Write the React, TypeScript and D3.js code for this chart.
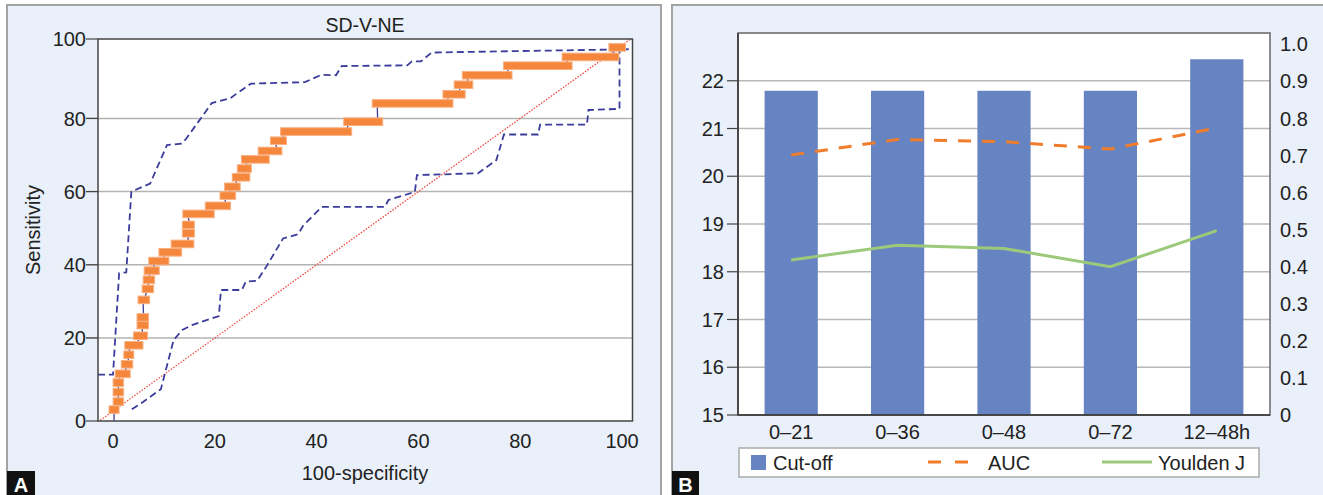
import React from "react";
import * as d3 from "d3";

// ---- panel A: ROC curve ----
// each step: [fpr start, fpr end, sensitivity]
const rocSteps: [number, number, number][] = [
  [0.2, 0.2, 0.4], [1.0, 1.1, 2.6], [1.0, 1.1, 5.2], [1.0, 1.1, 7.8],
  [1.4, 2.4, 10.2], [2.6, 2.9, 12.8], [3.1, 3.1, 15.4], [3.3, 4.9, 18.0],
  [5.0, 5.8, 20.6], [5.7, 6.0, 23.5], [5.7, 6.0, 25.6], [5.9, 6.2, 30.4],
  [6.7, 7.0, 33.4], [6.9, 7.2, 35.9], [7.1, 8.1, 38.4], [8.0, 10.0, 41.0],
  [10.0, 12.5, 43.4], [12.4, 14.9, 45.7], [14.6, 15.0, 48.6], [14.6, 15.0, 50.9],
  [14.7, 18.9, 53.9], [19.1, 22.1, 56.1], [22.0, 23.1, 58.9], [22.9, 24.0, 61.3],
  [24.4, 25.9, 63.9], [25.4, 26.2, 66.3], [26.2, 29.7, 68.8], [29.5, 32.2, 71.1],
  [31.9, 33.1, 73.9], [33.9, 45.9, 76.4], [46.3, 52.0, 79.1], [51.9, 65.8, 84.1],
  [65.8, 68.2, 86.6], [68.0, 69.7, 89.2], [69.6, 77.4, 91.8], [77.7, 89.2, 94.4],
  [89.2, 98.4, 96.8], [98.4, 99.7, 99.4],
];

const upperCI: [number, number][] = [
  [-2.95, 10.0], [0, 10.0], [1.2, 37.7], [2.6, 37.9], [3.6, 60.0], [4.3, 60.4],
  [7.3, 62.2], [10.6, 72.7], [13.4, 73.1], [14.3, 74.3], [19.4, 84.2], [23.0, 85.5],
  [27.1, 89.5], [37.7, 89.9], [40.9, 91.9], [43.8, 91.8], [44.9, 94.3], [57.8, 94.5],
  [58.7, 95.6], [60.5, 95.6], [62.6, 98.0], [101.5, 98.9],
];

const lowerCI: [number, number][] = [
  [3.7, 0.5], [5.9, 2.5], [9.4, 6.0], [11.9, 19.4], [13.6, 22.2], [15.5, 23.5],
  [17.1, 24.3], [20.8, 26.0], [21.2, 33.1], [25.3, 33.1], [26.1, 35.4], [28.3, 35.6],
  [30.3, 39.9], [33.4, 47.2], [34.8, 47.7], [36.4, 48.4], [37.3, 50.6], [41.0, 55.8],
  [53.4, 55.8], [54.1, 57.7], [59.3, 59.9], [59.7, 64.5], [71.7, 65.0], [75.3, 68.6],
  [76.8, 75.6], [83.5, 75.6], [83.9, 78.3], [93.1, 78.3], [93.4, 82.3], [99.5, 82.6],
  [99.5, 99.1],
];

const rocXTicks = [0, 20, 40, 60, 80, 100];
const rocYTicks = [0, 20, 40, 60, 80, 100];
const rocGrid = [20, 40, 60, 80];

// ---- panel B: cut-off bars with AUC and Youden lines ----
const periods = ["0–21", "0–36", "0–48", "0–72", "12–48h"];
const cutOff = [21.79, 21.79, 21.79, 21.79, 22.45];
const auc = [0.701, 0.743, 0.737, 0.717, 0.774];
const youden = [0.418, 0.458, 0.449, 0.4, 0.497];
const leftTicks = [15, 16, 17, 18, 19, 20, 21, 22];
const rightTicks = [0, 0.1, 0.2, 0.3, 0.4, 0.5, 0.6, 0.7, 0.8, 0.9, 1.0];

const FONT = "'Liberation Sans', Arial, sans-serif";
const NAVY = "#3c3c9c";
const ORANGE = "#f5873d";
const BAR = "#6683c2";

function PanelA() {
  const x = d3.scaleLinear().domain([-2.95, 102.05]).range([98, 632.5]);
  const y = d3.scaleLinear().domain([-2.7, 101.7]).range([421, 39]);
  // the end labels sit on the frame edges in the original
  const yTick = d3
    .scaleLinear()
    .domain([0, 20, 80, 100])
    .range([y(-2.7), y(20), y(80), y(101.7)]);

  const line = d3
    .line<[number, number]>()
    .x((d) => x(d[0]))
    .y((d) => y(d[1]));

  const rocPts: [number, number][] = [[rocSteps[0][0], y.domain()[0]]];
  rocSteps.forEach((s) => {
    rocPts.push([s[0], s[2]]);
    rocPts.push([s[1], s[2]]);
  });

  const [x0, x1] = x.range();
  const [yb, yt] = y.range();

  return (
    <g>
      <rect x={7} y={5} width={654} height={500} fill="#e9f0fa" stroke="#a3a3a3" strokeWidth={2} />
      <defs>
        <clipPath id="clipA">
          <rect x={x0} y={yt} width={x1 - x0} height={yb - yt} />
        </clipPath>
      </defs>
      <rect x={x0} y={yt} width={x1 - x0} height={yb - yt} fill="#fff" />
      {rocGrid.map((v) => (
        <line key={v} x1={86} x2={x1} y1={y(v)} y2={y(v)} stroke="#b3b3b3" strokeWidth={1.5} />
      ))}
      <g clipPath="url(#clipA)">
        <path
          d={line([[-3, -3], [103, 103]]) || ""}
          stroke="#f0483c"
          strokeWidth={1.3}
          strokeDasharray="1.5,1.5"
          fill="none"
        />
        <path d={line(upperCI) || ""} stroke={NAVY} strokeWidth={1.8} strokeDasharray="7,4" fill="none" />
        <path d={line(lowerCI) || ""} stroke={NAVY} strokeWidth={1.8} strokeDasharray="7,4" fill="none" />
        <path d={line(rocPts) || ""} stroke={NAVY} strokeWidth={1.3} fill="none" />
        {rocSteps.map((s, i) => (
          <rect
            key={i}
            x={x(s[0]) - 5}
            width={x(s[1]) - x(s[0]) + 10}
            y={y(s[2]) - 3.8}
            height={7.6}
            fill={ORANGE}
            stroke="#f9b184"
            strokeWidth={1}
          />
        ))}
      </g>
      <rect x={x0} y={yt} width={x1 - x0} height={yb - yt} fill="none" stroke="#444" strokeWidth={1.5} />
      {rocYTicks.map((v) => (
        <g key={v}>
          <line x1={86} x2={x0} y1={yTick(v)} y2={yTick(v)} stroke="#444" strokeWidth={1.2} />
          <text x={86} y={yTick(v)} dy="0.36em" textAnchor="end" fontSize={20} fontFamily={FONT} fill="#222">
            {v}
          </text>
        </g>
      ))}
      {rocXTicks.map((v) => (
        <text key={v} x={x(v)} y={448} textAnchor="middle" fontSize={20} fontFamily={FONT} fill="#222">
          {v}
        </text>
      ))}
      <text x={365} y={32} textAnchor="middle" fontSize={19.5} fontFamily={FONT} fill="#222">
        SD-V-NE
      </text>
      <text x={365} y={480} textAnchor="middle" fontSize={20} fontFamily={FONT} fill="#222">
        100-specificity
      </text>
      <text
        transform="translate(40,230) rotate(-90)"
        textAnchor="middle"
        fontSize={20}
        fontFamily={FONT}
        fill="#222"
      >
        Sensitivity
      </text>
      <rect x={7} y={471} width={28} height={30} fill="#111" />
      <text x={21} y={492} textAnchor="middle" fontSize={20} fontWeight="bold" fontFamily={FONT} fill="#fff">
        A
      </text>
    </g>
  );
}

function PanelB() {
  const x = d3.scaleBand<string>().domain(periods).range([738, 1270]).paddingInner(0.5).paddingOuter(0.25);
  const yL = d3.scaleLinear().domain([15, 23]).range([415, 33]);
  const yR = d3.scaleLinear().domain([0, 1.03]).range([415, 33]);
  const cx = (i: number) => (x(periods[i]) as number) + x.bandwidth() / 2;

  const lineR = d3
    .line<number>()
    .x((_, i) => cx(i))
    .y((d) => yR(d));

  const [x0, x1] = x.range();
  const [yb, yt] = yL.range();
  const fmtR = (v: number) => (v === 0 ? "0" : v.toFixed(1));

  return (
    <g>
      <rect x={672} y={5} width={660} height={500} fill="#e9f0fa" stroke="#a3a3a3" strokeWidth={2} />
      <rect x={x0} y={yt} width={x1 - x0} height={yb - yt} fill="#fff" />
      {leftTicks.slice(1).map((v) => (
        <line key={v} x1={x0} x2={x1} y1={yL(v)} y2={yL(v)} stroke="#b8b8b8" strokeWidth={1.5} />
      ))}
      {cutOff.map((v, i) => (
        <rect key={i} x={x(periods[i])} width={x.bandwidth()} y={yL(v)} height={yb - yL(v)} fill={BAR} />
      ))}
      <path d={lineR(auc) || ""} stroke="#ef7d2c" strokeWidth={3} strokeDasharray="13,11" fill="none" />
      <path d={lineR(youden) || ""} stroke="#9cc97a" strokeWidth={3} fill="none" />
      <rect x={x0} y={yt} width={x1 - x0} height={yb - yt} fill="none" stroke="#666" strokeWidth={1.5} />
      <line x1={x0} x2={x0} y1={yt} y2={yb} stroke="#333" strokeWidth={1.5} />
      <line x1={x0} x2={x1} y1={yb} y2={yb} stroke="#333" strokeWidth={1.5} />
      {leftTicks.map((v) => (
        <g key={v}>
          <line x1={727} x2={x0} y1={yL(v)} y2={yL(v)} stroke="#444" strokeWidth={1.2} />
          <text x={724} y={yL(v)} dy="0.36em" textAnchor="end" fontSize={20} fontFamily={FONT} fill="#222">
            {v}
          </text>
        </g>
      ))}
      {rightTicks.map((v) => (
        <text key={v} x={1280} y={yR(v)} dy="0.36em" fontSize={20} fontFamily={FONT} fill="#222">
          {fmtR(v)}
        </text>
      ))}
      {periods.map((p, i) => (
        <text key={p} x={cx(i)} y={439} textAnchor="middle" fontSize={20} fontFamily={FONT} fill="#222">
          {p}
        </text>
      ))}
      <rect x={739} y={448} width={520} height={29} fill="#fff" stroke="#aaa" strokeWidth={1.5} />
      <rect x={751} y={455} width={15} height={15} fill={BAR} />
      <text x={773} y={470} fontSize={20} fontFamily={FONT} fill="#222">
        Cut-off
      </text>
      <line x1={928} x2={969} y1={462} y2={462} stroke="#ef7d2c" strokeWidth={3} strokeDasharray="13,14" />
      <text x={988} y={470} fontSize={20} fontFamily={FONT} fill="#222">
        AUC
      </text>
      <line x1={1102} x2={1152} y1={462} y2={462} stroke="#9cc97a" strokeWidth={3} />
      <text x={1158} y={470} fontSize={20} fontFamily={FONT} fill="#222">
        Youlden J
      </text>
      <rect x={672} y={471} width={27} height={30} fill="#111" />
      <text x={685.5} y={492} textAnchor="middle" fontSize={20} fontWeight="bold" fontFamily={FONT} fill="#fff">
        B
      </text>
    </g>
  );
}

export default function App() {
  return (
    <div style={{ position: "absolute", left: 0, top: 0 }}>
      <svg width={1323} height={495} style={{ display: "block", background: "#fff" }}>
        <PanelA />
        <PanelB />
      </svg>
    </div>
  );
}
